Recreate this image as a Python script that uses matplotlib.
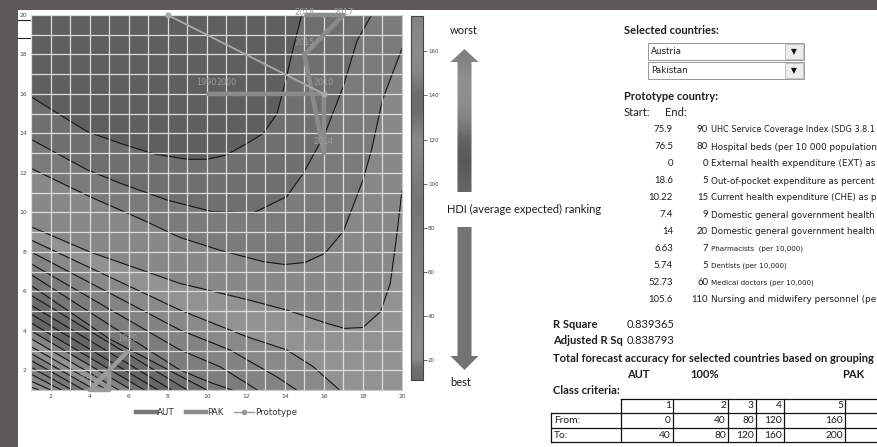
import matplotlib
matplotlib.use('Agg')
import matplotlib.pyplot as plt
from matplotlib.patches import Polygon, Rectangle
from matplotlib.lines import Line2D
from matplotlib.colors import LinearSegmentedColormap
import numpy as np

W, H = 877, 447

# ---------------- data ----------------
c1_x = [1, 2.1, 3.9, 5.6, 7.3, 9.0, 10.0, 11.0, 12.05, 12.9, 13.6, 14.0, 14.4, 14.86]
c1_y = [15.86, 15.18, 14.08, 13.49, 12.96, 12.69, 12.69, 12.9, 13.49, 14.0, 15.0, 16.5, 18.2, 20]
c2_x = [1, 3.85, 5.56, 7.95, 10.3, 12.4, 14.1, 14.95, 16.06, 17.0, 17.7, 18.44]
c2_y = [13.7, 12.17, 11.48, 10.63, 10.03, 9.98, 10.8, 11.98, 14.0, 16.4, 18.7, 20]
c3_x = [1, 4.0, 6.74, 8.63, 10.68, 12.9, 14.0, 15.03, 16.05, 17.0, 18.0, 18.44, 19.0, 20]
c3_y = [12.23, 10.8, 9.61, 8.73, 8.08, 7.5, 7.36, 7.46, 7.92, 9.04, 11.64, 13.16, 15.7, 18.3]
c4_x = [1, 4.0, 8.63, 12.0, 14.1, 16.15, 17.07, 18.0, 18.9, 19.4, 19.7, 20]
c4_y = [9.27, 8.0, 6.4, 5.6, 5.05, 4.38, 4.12, 4.17, 4.97, 6.4, 8.6, 11.1]
low_lines = [
    ([1, 8.63, 12.05, 14.1, 15.45, 16.8], [8.6, 5.05, 3.7, 3.03, 2.18, 1]),
    ([1, 8.63, 11.19, 13.58, 14.6], [8.0, 4.04, 3.03, 1.67, 1]),
    ([1, 8.63, 10.68, 12.6], [7.4, 3.03, 2.18, 1]),
    ([1, 8.63, 10.3, 11.3], [6.85, 2.01, 1.34, 1]),
    ([1, 5.0, 10.0], [6.3, 3.6, 1]),
    ([1, 9.0], [5.8, 1]),
    ([1, 8.2], [5.3, 1]),
    ([1, 7.5], [4.85, 1]),
    ([1, 6.8], [4.4, 1]),
    ([1, 6.15], [4.0, 1]),
    ([1, 5.5], [3.6, 1]),
    ([1, 4.9], [3.2, 1]),
    ([1, 4.3], [2.85, 1]),
    ([1, 3.7], [2.5, 1]),
    ([1, 3.1], [2.15, 1]),
    ([1, 2.55], [1.8, 1]),
    ([1, 2.0], [1.45, 1]),
    ([1, 1.4], [1.15, 1]),
]
top_colors = ['#5f5f5f', '#6f6f6f', '#7b7b7b', '#888888', '#929292']
low_colors = ['#898989', '#838383', '#7d7d7d', '#777777', '#707070', '#6a6a6a', '#656565',
              '#666666', '#727272', '#858585', '#929292', '#8c8c8c', '#7e7e7e', '#777777',
              '#7c7c7c', '#868686', '#8f8f8f', '#959595']

aut_x = [10, 11, 16, 16, 15, 16, 17, 15]
aut_y = [16, 16, 16, 13, 18, 19, 20, 20]
aut_labels = ['1990', '2000', '2010', '2014', '2015', '', '2017', '2018']
pak_x = [6, 5, 4, 5, 5]
pak_y = [3, 2, 1, 1, 2]
pak_labels = ['1990', '', '2010', '', '']
proto_x = [8, 16]
proto_y = [20, 16]

cbar_levels = [11, 16, 20, 30, 40, 60, 80, 90, 100, 110, 120, 128, 135, 142, 150, 160, 176]
cbar_grays = ['#6a6a6a', '#707070', '#8a8a8a', '#8b8b8b', '#878787', '#808080', '#7a7a7a',
              '#747474', '#7a7a7a', '#828282', '#898989', '#777777', '#6c6c6c', '#6e6e6e',
              '#868686', '#8c8c8c', '#838383']
cbar_ticks = [20, 40, 60, 80, 100, 120, 140, 160]

start_vals = ['75.9', '76.5', '0', '18.6', '10.22', '7.4', '14', '6.63', '5.74', '52.73', '105.6']
end_vals = ['90', '80', '0', '5', '15', '9', '20', '7', '5', '60', '110']
indicators = ['UHC Service Coverage Index (SDG 3.8.1',
              'Hospital beds (per 10 000 population',
              'External health expenditure (EXT) as',
              'Out-of-pocket expenditure as percent',
              'Current health expenditure (CHE) as p',
              'Domestic general government health',
              'Domestic general government health',
              'Pharmacists  (per 10,000)',
              'Dentists (per 10,000)',
              'Medical doctors (per 10,000)',
              'Nursing and midwifery personnel (pe']
indicator_cut = [True, True, True, True, True, True, True, False, False, False, True]
countries = ['Austria', 'Pakistan']
r_square = '0.839365'
adj_r_sq = '0.838793'
class_ids = ['1', '2', '3', '4', '5']
class_from = ['0', '40', '80', '120', '160']
class_to = ['40', '80', '120', '160', '200']

# ---------------- figure ----------------
fig = plt.figure(figsize=(W / 100, H / 100), dpi=100)
fig.patch.set_facecolor('white')
renderer = fig.canvas.get_renderer()

def rect(x0, y0, x1, y1):
    return [x0 / W, 1 - y1 / H, (x1 - x0) / W, (y1 - y0) / H]

bg = fig.add_axes([0, 0, 1, 1])
bg.set_xlim(0, W)
bg.set_ylim(H, 0)
bg.axis('off')

def size_for(s, width, base=8.0, **kw):
    t = bg.text(0, 0, s, fontsize=base, **kw)
    w = t.get_window_extent(renderer).width
    t.remove()
    return base * width / w

dark = '#5e5957'
bg.add_patch(Rectangle((0, 0), W, 10, color=dark, lw=0))
bg.add_patch(Rectangle((0, 0), 18, H, color=dark, lw=0))
bg.plot([18, 31], [20, 20], color='#222', lw=0.8)
bg.plot([18, 31], [38, 38], color='#222', lw=0.8)

ax = fig.add_axes(rect(31, 15, 402, 390))
ax.set_xlim(1, 20)
ax.set_ylim(1, 20)
ax.set_facecolor(top_colors[0])

corner_br = [(20, 20), (20, 1), (1, 1)]
for cx, cy, col in [(c1_x, c1_y, top_colors[1]), (c2_x, c2_y, top_colors[2])]:
    ax.add_patch(Polygon(list(zip(cx, cy)) + corner_br, closed=True, color=col, lw=0, zorder=1))
ax.add_patch(Polygon(list(zip(c3_x, c3_y)) + [(20, 1), (1, 1)], closed=True, color=top_colors[3], lw=0, zorder=1))
ax.add_patch(Polygon(list(zip(c4_x, c4_y)) + [(20, 1), (1, 1)], closed=True, color=top_colors[4], lw=0, zorder=1))
for (lx, ly), col in zip(low_lines, low_colors):
    ax.add_patch(Polygon(list(zip(lx, ly)) + [(1, 1)], closed=True, color=col, lw=0, zorder=1))

for cx, cy in [(c1_x, c1_y), (c2_x, c2_y), (c3_x, c3_y), (c4_x, c4_y)] + low_lines:
    ax.plot(cx, cy, color='#151515', lw=0.8, zorder=2)

ax.set_xticks(np.arange(1, 21, 1), minor=True)
ax.set_yticks(np.arange(1, 21, 1), minor=True)
ax.set_xticks(np.arange(2, 21, 2))
ax.set_yticks(np.arange(2, 21, 2))
ax.grid(which='both', color='#dcdcdc', lw=0.9, zorder=3)
ax.set_axisbelow(False)
ax.tick_params(which='both', length=0, labelsize=4.3, labelcolor='#444', pad=3)
for s in ax.spines.values():
    s.set_color('#bbbbbb')
    s.set_linewidth(0.6)

ax.plot(aut_x, aut_y, color='#8b8b8b', lw=3.2, solid_capstyle='butt', zorder=5, clip_on=False)
ax.plot(pak_x, pak_y, color='#9a9a9a', lw=3.2, solid_capstyle='butt', zorder=5, clip_on=False)
ax.plot(proto_x, proto_y, color='#a9a9a9', lw=1.3, marker='o', ms=3.5, zorder=6, clip_on=False)
for x, y, t in zip(aut_x, aut_y, aut_labels):
    if t:
        ax.text(x, min(y + 0.6, 20.13), t, fontsize=5.8, color='#9c9c9c', ha='center',
                va='center', zorder=7, clip_on=False)
for x, y, t in zip(pak_x, pak_y, pak_labels):
    if t:
        ax.text(x - 0.05, y + 0.6, t, fontsize=5.8, color='#9c9c9c', ha='center', va='center', zorder=7)

handles = [Line2D([], [], color='#777777', lw=3.2),
           Line2D([], [], color='#8c8c8c', lw=3.2),
           Line2D([], [], color='#999999', lw=1, marker='o', ms=3)]
ax.legend(handles, ['AUT', 'PAK', 'Prototype'], loc='upper center', bbox_to_anchor=(0.5, -0.028),
          ncol=3, frameon=False, fontsize=6.3, handlelength=2.3, handletextpad=0.1,
          columnspacing=1.2, labelcolor='#333333')

# colorbar
cax = fig.add_axes(rect(411, 16, 422.5, 380))
cmap = LinearSegmentedColormap.from_list(
    'g', [((v - cbar_levels[0]) / (cbar_levels[-1] - cbar_levels[0]), c) for v, c in zip(cbar_levels, cbar_grays)])
grad = np.linspace(cbar_levels[0], cbar_levels[-1], 300).reshape(-1, 1)
cax.imshow(grad, aspect='auto', cmap=cmap, origin='lower',
           extent=[0, 1, cbar_levels[0], cbar_levels[-1]])
cax.set_xticks([])
cax.yaxis.tick_right()
cax.set_yticks(cbar_ticks)
cax.tick_params(axis='y', length=3, width=0.5, labelsize=4, labelcolor='#444', color='#333', pad=1)
for s in cax.spines.values():
    s.set_color('#444444')
    s.set_linewidth(0.8)

# arrows
ua = fig.add_axes(rect(448, 48, 481, 194))
ua.set_xlim(-16.5, 16.5)
ua.set_ylim(194, 48)
ua.axis('off')
up_poly = Polygon([(0, 49), (14, 62), (7, 62), (7, 192), (-7, 192), (-7, 62), (-14, 62)], closed=True,
                  facecolor='none', edgecolor='none')
ua.add_patch(up_poly)
up_grad = np.array([0.49, 0.53, 0.56, 0.56, 0.55, 0.53, 0.47, 0.39, 0.36, 0.35, 0.37, 0.40]).reshape(-1, 1)
im = ua.imshow(up_grad, cmap='gray', vmin=0, vmax=1, aspect='auto', extent=[-16.5, 16.5, 194, 48],
               interpolation='bicubic')
im.set_clip_path(up_poly)

da = fig.add_axes(rect(448, 225, 481, 372))
da.set_xlim(-16.5, 16.5)
da.set_ylim(372, 225)
da.axis('off')
da.add_patch(Polygon([(-7, 227), (7, 227), (7, 356), (14, 356), (0, 370), (-14, 356), (-7, 356)],
                     closed=True, facecolor='#737373', edgecolor='none'))

txt = dict(family='Lato', color='#1e1e1e')
dtxt = dict(family='DejaVu Sans', color='#1e1e1e')
S = size_for('Selected countries:', 95, fontweight='bold', **txt)
V = size_for(start_vals[0], 19.3, **txt)

def T(x, y, s, bold=False, ha='left', fs=None, style=txt):
    return bg.text(x, y, s, fontsize=fs or S, ha=ha, va='center',
                   fontweight='bold' if bold else 'normal', **style)

T(450, 31, 'worst')
T(447, 209, 'HDI (average expected) ranking')
T(450, 383, 'best')

T(624, 31, 'Selected countries:', bold=True)
for i, c in enumerate(countries):
    y0 = 43 + i * 19
    bg.add_patch(Rectangle((648, y0), 156, 17, facecolor='white', edgecolor='#9a9a9a', lw=0.7))
    bg.add_patch(Rectangle((785, y0 + 1), 18, 15, facecolor='#ececec', edgecolor='#b0b0b0', lw=0.5))
    T(651, y0 + 8.5, c, fs=size_for(countries[0], 31, **dtxt), style=dtxt)
    bg.text(794, y0 + 8.5, '\u25BC', fontsize=5.5, ha='center', va='center', color='#111')

T(624, 96, 'Prototype country:', bold=True)
T(624, 112, 'Start:')
T(665, 112, 'End:')
big_sizes = [size_for(d, 165, **dtxt) for d, c in zip(indicators, indicator_cut) if c]
small_fs = 0.82 * float(np.mean(big_sizes))
for i, (s, e, d, cut) in enumerate(zip(start_vals, end_vals, indicators, indicator_cut)):
    y = 129.5 + i * 17
    T(673, y, s, ha='right', fs=V)
    T(708, y, e, ha='right', fs=V)
    T(711, y + 0.5, d, fs=size_for(d, 165, **dtxt) if cut else small_fs, style=dtxt)

T(553, 324, 'R Square', bold=True)
T(627, 324, r_square)
T(553, 341, 'Adjusted R Sq', bold=True)
T(627, 341, adj_r_sq)
T(553, 358, 'Total forecast accuracy for selected countries based on grouping', bold=True,
  fs=size_for('Total forecast accuracy for selected countries based on grouping', 322,
              fontweight='bold', **txt))
T(627, 374, 'AUT', bold=True)
T(690, 374, '100%', bold=True)
T(842, 374, 'PAK', bold=True)
T(553, 391, 'Class criteria:', bold=True)

# table
col_edges = [621, 673, 728, 756, 784, 845, 900]
row_edges = [399, 413, 428, 442]
bg.plot([col_edges[0], W], [row_edges[0]] * 2, color='#111', lw=0.9)
for y in row_edges[1:]:
    bg.plot([551, W], [y, y], color='#111', lw=0.9)
bg.plot([551, 551], [row_edges[1], row_edges[3]], color='#111', lw=0.9)
for x in col_edges[:-1]:
    bg.plot([x, x], [row_edges[0], row_edges[3]], color='#111', lw=0.9)
tfs = S * 0.92
T(554, 420.5, 'From:', fs=tfs)
T(554, 435, 'To:', fs=tfs)
for i in range(5):
    xr = col_edges[i + 1] - 2
    T(xr, 406, class_ids[i], ha='right', fs=tfs)
    T(xr, 420.5, class_from[i], ha='right', fs=tfs)
    T(xr, 435, class_to[i], ha='right', fs=tfs)

fig.savefig('out.png', dpi=100, facecolor='white')
